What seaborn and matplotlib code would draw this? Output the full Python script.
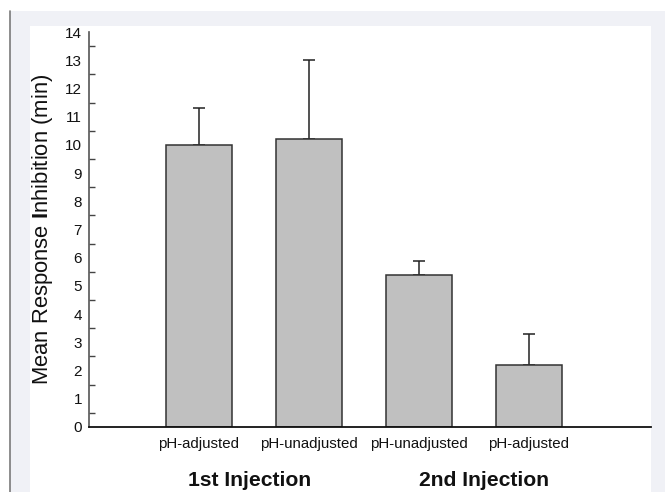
import matplotlib
matplotlib.use("Agg")
import matplotlib.pyplot as plt
from matplotlib.patches import Rectangle
from matplotlib.lines import Line2D
from matplotlib.ticker import MultipleLocator
import seaborn as sns
import pandas as pd

# ---- data ----
conditions = ["inj1_adj", "inj1_unadj", "inj2_unadj", "inj2_adj"]
tick_labels = ["pH-adjusted", "pH-unadjusted", "pH-unadjusted", "pH-adjusted"]
means = [10.0, 10.2, 5.4, 2.2]
errors = [1.3, 2.8, 0.5, 1.1]
groups = ["1st Injection", "2nd Injection"]

sns.set_theme(style="white")
plt.rcParams["font.family"] = ["Liberation Sans", "DejaVu Sans"]
plt.rcParams["mathtext.fontset"] = "custom"
plt.rcParams["mathtext.rm"] = "Liberation Sans"
plt.rcParams["mathtext.bf"] = "Liberation Sans:bold"

W, H = 665, 492
fig = plt.figure(figsize=(W / 100, H / 100), dpi=100)
fig.patch.set_facecolor("white")

# background frame
fig.add_artist(Rectangle((10 / W, 0), (W - 10) / W, (H - 11) / H, transform=fig.transFigure,
                         facecolor="#f0f1f6", edgecolor="none", zorder=-3))
fig.add_artist(Rectangle((30 / W, 0), (651 - 30) / W, (H - 26) / H, transform=fig.transFigure,
                         facecolor="white", edgecolor="none", zorder=-2))
fig.add_artist(Line2D([9.5 / W, 9.5 / W], [0, (H - 11) / H], transform=fig.transFigure,
                      color="#7a7a7a", lw=1.2, zorder=-1))

ax = fig.add_axes([89 / W, (H - 427) / H, (651 - 89) / W, (427 - 32) / H])
ax.patch.set_alpha(0)

df = pd.DataFrame({"condition": conditions, "mean": means})
sns.barplot(data=df, x="condition", y="mean", order=conditions, color="#c0c0c0",
            saturation=1, width=0.6, edgecolor="#333333", linewidth=1.1, ax=ax, zorder=2)
ax.errorbar(range(len(means)), means, yerr=[[0] * len(errors), errors], fmt="none",
            ecolor="#222222", elinewidth=1.1, capsize=4.5, capthick=1.1, zorder=1)

ax.set_xlim(-1.0, 4.11)
ax.set_ylim(0, 14)
ax.yaxis.set_major_locator(MultipleLocator(1))
ax.yaxis.set_minor_locator(MultipleLocator(0.5))
ax.set_xticks(range(len(tick_labels)))
ax.set_xticklabels(tick_labels, fontsize=10.8)
ax.tick_params(axis="x", length=0, pad=7, colors="#111111")
ax.tick_params(axis="y", which="major", direction="in", length=5, width=1, pad=5,
               labelsize=11, colors="#444444", labelcolor="#111111")
ax.tick_params(axis="y", which="minor", direction="in", length=4, width=1, colors="#444444", left=True)
ax.set_xlabel("")
ax.set_ylabel(r"Mean Response $\mathbf{I}$nhibition (min)", fontsize=15.8, labelpad=7, color="#111111")

for s in ["top", "right"]:
    ax.spines[s].set_visible(False)
ax.spines["left"].set_color("#555555")
ax.spines["left"].set_linewidth(1.2)
ax.spines["bottom"].set_color("#111111")
ax.spines["bottom"].set_linewidth(1.3)

fig.text(250 / W, 6 / H, groups[0], ha="center", va="baseline", fontsize=15.2, fontweight="bold", color="#111111")
fig.text(484 / W, 6 / H, groups[1], ha="center", va="baseline", fontsize=15.2, fontweight="bold", color="#111111")

fig.savefig("out.png", dpi=100)
